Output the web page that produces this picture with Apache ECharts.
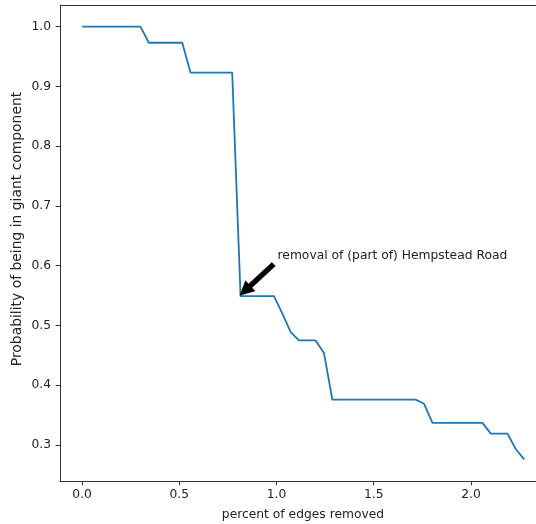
<!DOCTYPE html>
<html>
<head>
<meta charset="utf-8">
<script src="https://cdn.jsdelivr.net/npm/echarts@6/dist/echarts.min.js"></script>
<style>
  html, body { margin: 0; padding: 0; background: #fff; overflow: hidden; }
  #chart { width: 536px; height: 524px; }
</style>
</head>
<body>
<div id="chart"></div>
<script>
// percent of edges removed (one point per removed edge)
const percentRemoved = [
  0, 0.043, 0.086, 0.129, 0.172, 0.215, 0.257, 0.300, 0.343, 0.386,
  0.429, 0.472, 0.515, 0.558, 0.601, 0.644, 0.686, 0.729, 0.772, 0.815,
  0.858, 0.901, 0.944, 0.987, 1.030, 1.073, 1.115, 1.158, 1.201, 1.244,
  1.287, 1.330, 1.373, 1.416, 1.459, 1.502, 1.544, 1.587, 1.630, 1.673,
  1.716, 1.759, 1.802, 1.845, 1.888, 1.931, 1.973, 2.016, 2.059, 2.102,
  2.145, 2.188, 2.231, 2.274
];
const probGiant = [
  1.0, 1.0, 1.0, 1.0, 1.0, 1.0, 1.0, 1.0, 0.973, 0.973,
  0.973, 0.973, 0.973, 0.923, 0.923, 0.923, 0.923, 0.923, 0.923, 0.549,
  0.549, 0.549, 0.549, 0.549, 0.520, 0.489, 0.475, 0.475, 0.475, 0.454,
  0.376, 0.376, 0.376, 0.376, 0.376, 0.376, 0.376, 0.376, 0.376, 0.376,
  0.376, 0.369, 0.337, 0.337, 0.337, 0.337, 0.337, 0.337, 0.337, 0.319,
  0.319, 0.319, 0.293, 0.276
];
const xTicks = [0, 0.5, 1.0, 1.5, 2.0];
const yTicks = [0.3, 0.4, 0.5, 0.6, 0.7, 0.8, 0.9, 1.0];

const noteText = "removal of (part of) Hempstead Road";
const noteAt = [1.0, 0.61];
const arrowTail = [0.985, 0.6025];
const arrowTip = [0.812, 0.5505];

const font = "DejaVu Sans";
const fs = 12.3;
const ink = "#222";
const spine = "#333";

const chart = echarts.init(document.getElementById("chart"), null, { renderer: "canvas" });

function axisStyle(ticks, margin) {
  return {
    axisLine: { show: true, onZero: false, lineStyle: { color: spine, width: 1 } },
    axisTick: { show: true, length: 4.3, lineStyle: { color: spine, width: 1 }, customValues: ticks },
    axisLabel: {
      color: ink, fontSize: fs, fontFamily: font, margin,
      customValues: ticks,
      formatter: (v) => Number(v).toFixed(1),
    },
    splitLine: { show: false },
  };
}

// the axes box runs past the right edge of the picture (cropped figure)
chart.setOption({
  animation: false,
  textStyle: { fontFamily: font },
  grid: { left: 60, top: 5, right: 0, bottom: 43, outerBoundsMode: "none" },
  xAxis: {
    type: "value",
    min: -0.1137, max: 2.3346,
    name: "percent of edges removed",
    nameLocation: "middle", nameGap: 28,
    nameTextStyle: { color: ink, fontSize: fs, fontFamily: font, padding: [0, 0, 0, 10] },
    ...axisStyle(xTicks, 8),
  },
  yAxis: {
    type: "value",
    min: 0.2398, max: 1.0362,
    ...axisStyle(yTicks, 9),
  },
  series: [{
    type: "line",
    data: percentRemoved.map((x, i) => [x, probGiant[i]]),
    showSymbol: false,
    lineStyle: { color: "#1f77b4", width: 1.8 },
  }],
});

// annotation: arrow + text placed in data coordinates
const tail = chart.convertToPixel({ gridIndex: 0 }, arrowTail);
const tip = chart.convertToPixel({ gridIndex: 0 }, arrowTip);
const textPos = chart.convertToPixel({ gridIndex: 0 }, noteAt);

const dx = tip[0] - tail[0], dy = tip[1] - tail[1];
const len = Math.hypot(dx, dy);
const ux = dx / len, uy = dy / len;
const nx = -uy, ny = ux;
const shaft = 2.5, head = 7, headLen = 14;
const bx = tip[0] - ux * headLen, by = tip[1] - uy * headLen;

chart.setOption({
  graphic: [
    {
      // top spine
      type: "line",
      shape: { x1: 60, y1: 5.5, x2: 546, y2: 5.5 },
      style: { stroke: spine, lineWidth: 1 },
    },
    {
      type: "polygon",
      shape: {
        points: [
          [tail[0] + nx * shaft, tail[1] + ny * shaft],
          [bx + nx * shaft, by + ny * shaft],
          [bx + nx * head, by + ny * head],
          tip,
          [bx - nx * head, by - ny * head],
          [bx - nx * shaft, by - ny * shaft],
          [tail[0] - nx * shaft, tail[1] - ny * shaft],
        ],
      },
      style: { fill: "#000", stroke: "#000", lineWidth: 0.5 },
      z: 100,
    },
    {
      type: "text",
      x: textPos[0] + 1,
      y: textPos[1] - 4,
      style: {
        text: noteText, fill: ink, font: `${fs}px "${font}"`,
        textAlign: "left", textVerticalAlign: "middle",
      },
      z: 100,
    },
    {
      // y axis title
      type: "text",
      x: 17, y: 229,
      rotation: Math.PI / 2,
      style: {
        text: "Probability of being in giant component", fill: ink,
        font: `13.9px "${font}"`,
        textAlign: "center", textVerticalAlign: "middle",
      },
      z: 100,
    },
  ],
});
</script>
</body>
</html>
